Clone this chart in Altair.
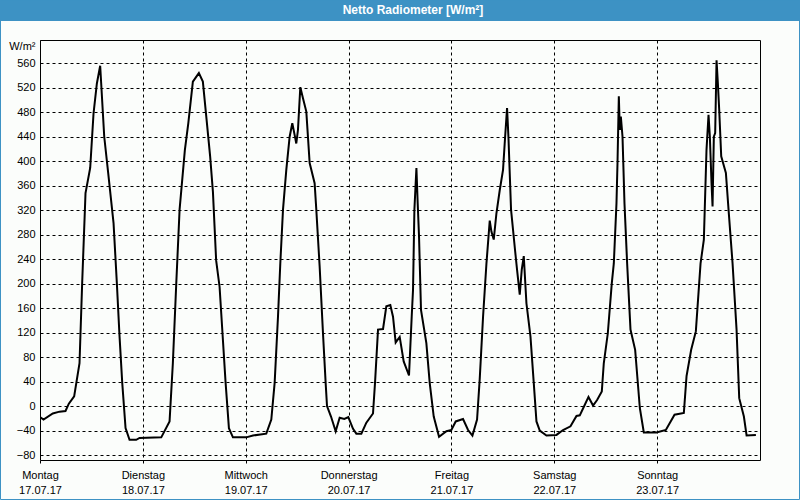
import altair as alt
import pandas as pd

# time in hours since Monday 17.07.17 00:00, net radiation in W/m²
hours = [
    0.0, 0.82, 2.99, 4.55, 5.95, 6.73, 7.97, 9.22, 9.84, 10.62, 11.71, 12.49, 13.27, 14.04,
    14.99, 15.92, 17.16, 17.93, 18.56, 19.19, 19.96, 20.89, 22.45, 23.23,
    28.29, 30.23, 31.0, 31.8, 32.57, 33.8, 34.6, 35.67, 37.07, 38.0, 38.8, 39.7, 40.35,
    41.1, 41.9, 42.68, 43.31, 44.08, 45.02, 48.13, 49.69, 52.8,
    53.97, 54.75, 55.53, 56.07, 56.7, 57.47, 58.25, 58.87, 59.41, 59.8, 60.19, 60.74, 61.36,
    62.14, 62.92, 64.08, 64.47, 65.25, 66.03, 66.65, 66.97, 67.9, 68.99, 69.92, 71.01, 71.94,
    73.04, 73.81, 74.98, 76.15, 77.7, 78.17, 78.87, 80.04, 80.81, 81.74, 82.37, 82.99,
    83.93, 84.86, 86.1, 86.73, 87.04, 87.36, 87.83, 88.13, 88.44, 88.9, 90.15, 90.93, 91.87,
    93.11, 94.83, 95.99, 97.0, 98.71, 99.88, 100.9, 101.98, 102.6, 103.38, 104.17, 104.94,
    105.33, 105.87, 106.5, 107.28, 108.04, 108.51, 108.98, 109.3, 109.91, 110.84, 111.31,
    111.94, 112.41, 112.88, 113.5, 114.44, 115.21, 115.84, 116.61, 118.17, 120.51, 122.05,
    123.78, 125.18, 125.95,
    127.04, 127.98, 129.05, 129.99, 131.09, 131.55, 132.49, 133.42, 133.89, 134.51, 134.75,
    135.06, 135.29, 135.53, 135.92, 136.38, 137.0, 137.78, 138.87, 139.96, 140.89, 143.86,
    146.03, 148.06, 150.23, 150.86, 151.94, 153.03, 154.13, 154.9, 155.52, 155.99, 156.3,
    156.69, 156.93, 157.23, 157.54, 157.86, 158.17, 158.48, 158.95, 160.04, 160.66, 161.6,
    162.53, 163.15, 164.24, 164.87, 167.04,
]
values = [
    -18, -22, -12, -9, -8, 4, 16, 70, 201, 348, 389, 478, 527, 556,
    440, 380, 299, 201, 114, 38, -36, -55, -55, -52,
    -51, -25, 70, 201, 321, 418, 462, 530, 544, 530, 473, 408, 350,
    238, 195, 108, 38, -36, -51, -51, -48, -45,
    -22, 38, 146, 233, 321, 386, 440, 462, 443, 429, 451, 521, 503,
    481, 397, 364, 321, 228, 119, 38, 0, -17, -41, -19, -21, -18,
    -37, -45, -45, -27, -12, 38, 125, 126, 163, 165, 146, 104,
    113, 73, 50, 146, 190, 321, 389, 331, 277, 157, 103, 38, -17,
    -50, -41, -39, -25, -21, -39, -48, -22, 44, 146, 233, 303,
    285, 272, 315, 353, 386, 438, 487, 440, 321, 255, 223,
    182, 223, 245, 168, 114, 38, -25, -40, -48, -47, -39,
    -33, -16, -15,
    1, 15, 1, 10, 24, 70, 119, 201, 233, 331, 397,
    506, 451, 473, 440, 331, 233, 125, 92, -3, -43, -43,
    -39, -14, -11, 49, 92, 122, 233, 272, 419, 476, 440,
    364, 326, 440, 446, 565, 527, 484, 408, 381, 321, 233,
    125, 13, -17, -48, -47,
]

day_names = ["Montag", "Dienstag", "Mittwoch", "Donnerstag", "Freitag", "Samstag", "Sonntag"]
day_dates = ["17.07.17", "18.07.17", "19.07.17", "20.07.17", "21.07.17", "22.07.17", "23.07.17"]
x_ticks = [0, 24, 48, 72, 96, 120, 144]
y_ticks = [-80, -40, 0, 40, 80, 120, 160, 200, 240, 280, 320, 360, 400, 440, 480, 520, 560]
title_text = "Netto Radiometer [W/m²]"
unit_text = "W/m²"

df = pd.DataFrame({"h": hours, "v": values})

names_js = "[" + ",".join(f"'{d}'" for d in day_names) + "]"
dates_js = "[" + ",".join(f"'{d}'" for d in day_dates) + "]"
label_expr = f"[{names_js}[round(datum.value/24)], {dates_js}[round(datum.value/24)]]"

FONT = "Liberation Sans"
BLUE = "#3d92c4"

line = alt.Chart(df).mark_line(color="black", strokeWidth=2, clip=True).encode(
    x=alt.X(
        "h:Q",
        scale=alt.Scale(domain=[0, 168], nice=False, zero=False),
        axis=alt.Axis(
            values=x_ticks, labelExpr=label_expr, title=None, grid=True,
            gridDash=[3, 3], gridColor="black", gridOpacity=1, gridWidth=1,
            domain=False, ticks=True, tickSize=3, tickColor="black",
            labelFont=FONT, labelFontSize=11, labelColor="black",
            labelAlign="center", labelBaseline="top", labelLineHeight=15,
            labelPadding=6, labelFlush=False, labelOverlap=False,
        ),
    ),
    y=alt.Y(
        "v:Q",
        scale=alt.Scale(domain=[-88, 598], nice=False, zero=False),
        axis=alt.Axis(
            values=y_ticks, title=unit_text, titleAngle=0, titleX=-5, titleY=6,
            titleAlign="right", titleBaseline="middle", titleFont=FONT,
            titleFontSize=11, titleFontWeight="normal", titleColor="black",
            grid=True, gridDash=[3, 3], gridColor="black", gridOpacity=1, gridWidth=1,
            domain=False, ticks=False, labelPadding=5,
            labelFont=FONT, labelFontSize=11, labelColor="black",
            labelOverlap=False, labelFlush=False,
        ),
    ),
)

deco = pd.DataFrame({"t": [title_text]})
bar = alt.Chart(deco).mark_rect(color=BLUE).encode(
    x=alt.value(-40), x2=alt.value(760), y=alt.value(-40), y2=alt.value(-19)
)
border = alt.Chart(deco).mark_rect(filled=False, stroke=BLUE, strokeWidth=1).encode(
    x=alt.value(-39.5), x2=alt.value(759.5), y=alt.value(-40), y2=alt.value(459.5)
)
title = alt.Chart(deco).mark_text(
    color="white", font=FONT, fontSize=12, fontWeight="bold", align="center", baseline="middle"
).encode(x=alt.value(373), y=alt.value(-30), text="t:N")

chart = alt.layer(line, bar, border, title).properties(
    width=720, height=420,
    autosize=alt.AutoSizeParams(type="none"),
    padding={"left": 40, "top": 40, "right": 40, "bottom": 40},
    background="#fbfdfb",
).configure_view(stroke="black", strokeWidth=1)

chart.save("out.html", embed_options={"renderer": "svg", "actions": False})
